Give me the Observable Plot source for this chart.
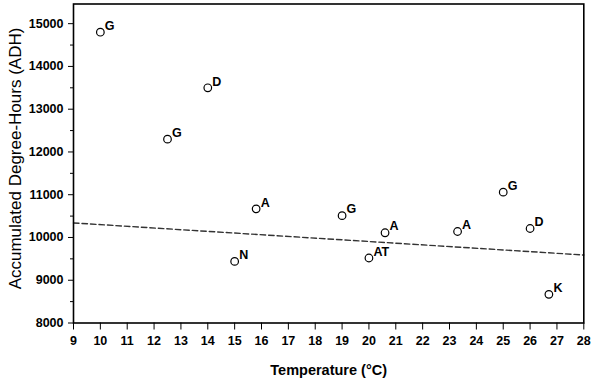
<!DOCTYPE html>
<html><head><meta charset="utf-8">
<script src="https://cdn.jsdelivr.net/npm/d3@7"></script>
<script src="https://cdn.jsdelivr.net/npm/@observablehq/plot@0.6"></script>
<style>
body{margin:0;background:#fff;}
g[aria-label="ylabel"] text{letter-spacing:1px;}
</style>
</head><body><div id="chart"></div>
<script>
const temperature = [10, 14, 12.5, 15.8, 15, 19, 20.6, 20, 23.3, 25, 26, 26.7];
const adh = [14800, 13500, 12300, 10670, 9440, 10510, 10110, 9520, 10140, 11060, 10210, 8670];
const labels = ["G", "D", "G", "A", "N", "G", "A", "AT", "A", "G", "D", "K"];
const trendTemperature = [9, 28];
const trendADH = [10340, 9590];
const xTicks = [9, 10, 11, 12, 13, 14, 15, 16, 17, 18, 19, 20, 21, 22, 23, 24, 25, 26, 27, 28];
const yTicks = [8000, 9000, 10000, 11000, 12000, 13000, 14000, 15000];
const yMinorTicks = [8500, 9500, 10500, 11500, 12500, 13500, 14500];
const xTitle = "Temperature (°C)";
const yTitle = "Accumulated Degree-Hours (ADH)";

const points = temperature.map((t, i) => ({t, adh: adh[i], label: labels[i]}));
const trend = trendTemperature.map((t, i) => ({t, adh: trendADH[i]}));
const font = "'Liberation Sans', Arial, Helvetica, sans-serif";

const chart = Plot.plot({
  width: 595, height: 382,
  marginTop: 3.5, marginLeft: 73, marginRight: 11.7, marginBottom: 59.5,
  style: {fontFamily: font, background: "#fff", color: "#000", fontSize: "12px"},
  x: {domain: [9, 28]},
  y: {domain: [8000, 15460]},
  marks: [
    Plot.line(trend, {x: "t", y: "adh", stroke: "#333", strokeWidth: 1.4, strokeDasharray: "5.5,3"}),
    Plot.dot(points, {x: "t", y: "adh", r: 3.8, stroke: "#000", strokeWidth: 1.2, fill: "#fff"}),
    Plot.text(points, {x: "t", y: "adh", text: "label", textAnchor: "start", lineAnchor: "bottom", dx: 4.5, dy: -2.3, fontWeight: "bold", fontSize: 12.5, fill: "#000"}),
    Plot.axisX({ticks: xTicks, tickSize: 7, tickPadding: 6, tickFormat: d => String(d), fontSize: 12.5, fontWeight: "bold", label: null}),
    Plot.axisY({ticks: yTicks, tickSize: 5, tickPadding: 5, tickFormat: d => String(d), fontSize: 12.5, fontWeight: "bold", label: null}),
    Plot.axisY({ticks: yMinorTicks, tickSize: 3, text: null, label: null}),
    Plot.frame({stroke: "#000", strokeWidth: 1.6}),
    Plot.text([yTitle], {frameAnchor: "left", textAnchor: "middle", dx: -58, dy: -5, rotate: -90, fontSize: 17, fill: "#000", ariaLabel: "ylabel"}),
    Plot.text([xTitle], {frameAnchor: "bottom", dy: 52, lineAnchor: "bottom", fontWeight: "bold", fontSize: 14.5, fill: "#000"})
  ]
});
document.getElementById("chart").appendChild(chart);
</script>
</body></html>
